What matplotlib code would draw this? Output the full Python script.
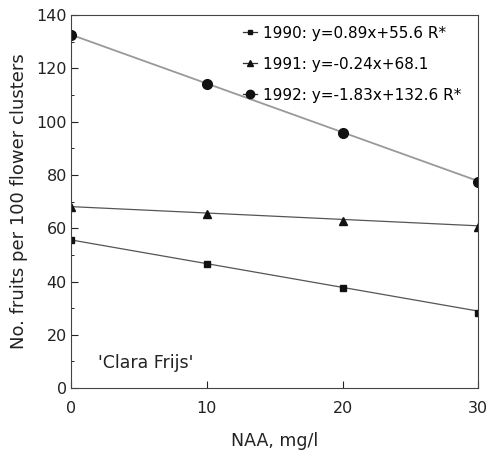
import matplotlib
matplotlib.use("Agg")
import matplotlib.pyplot as plt
import numpy as np
from matplotlib.ticker import MultipleLocator

plt.rcParams['font.family'] = ['DejaVu Sans']

naa = [0, 10, 20, 30]
y1990 = [55.5, 46.5, 37.5, 28.2]
y1991 = [68.0, 65.2, 62.8, 60.3]
y1992 = [132.6, 114.3, 95.8, 77.4]

labels = ['1990: y=0.89x+55.6 R*', '1991: y=-0.24x+68.1', '1992: y=-1.83x+132.6 R*']
# fitted lines (1990 drawn decreasing, as in the figure)
slopes = [-0.89, -0.24, -1.83]
intercepts = [55.6, 68.1, 132.6]

fig = plt.figure(figsize=(4.94, 4.55), dpi=100)
ax = fig.add_axes([0.144, 0.147, 0.824, 0.820])

xs = np.array([0, 30])
styles = [('s', 4, '#555555', 0.9), ('^', 5.5, '#555555', 0.9), ('o', 7, '#999999', 1.3)]
handles = []
for ys, (m, ms, lc, lw), a, b, lab in zip([y1990, y1991, y1992], styles, slopes, intercepts, labels):
    ax.plot(xs, a * xs + b, color=lc, lw=lw, zorder=1)
    ax.plot(naa, ys, linestyle='none', marker=m, markersize=ms, color='#111111', zorder=2)
    h, = ax.plot([], [], color='#333333', lw=0.9, marker=m, markersize=ms - 1,
                 markerfacecolor='#111111', markeredgecolor='#111111', label=lab)
    handles.append(h)

ax.legend(handles=handles, loc='upper right', frameon=False, fontsize=11,
          handlelength=0.9, handletextpad=0.4, labelspacing=1.05, borderaxespad=0.3,
          bbox_to_anchor=(0.985, 1.0))

ax.text(2, 9.5, "'Clara Frijs'", fontsize=12.5, color='#222222', va='center')

ax.set_xlim(0, 30)
ax.set_ylim(0, 140)
ax.set_xticks([0, 10, 20, 30])
ax.set_yticks(np.arange(0, 141, 20))
ax.yaxis.set_minor_locator(MultipleLocator(10))
ax.tick_params(direction='in', length=5, width=0.8, labelsize=11.5, colors='#222222')
ax.tick_params(axis='x', pad=9)
ax.tick_params(axis='y', pad=3)
ax.tick_params(which='minor', direction='in', length=2.5, width=0.6)
for s in ax.spines.values():
    s.set_color('#444444')
    s.set_linewidth(0.8)

ax.set_xlabel('NAA, mg/l', fontsize=12.5, color='#222222', labelpad=12)
ax.set_ylabel('No. fruits per 100 flower clusters', fontsize=13, color='#222222', labelpad=6)

fig.savefig('out.png', dpi=100)
